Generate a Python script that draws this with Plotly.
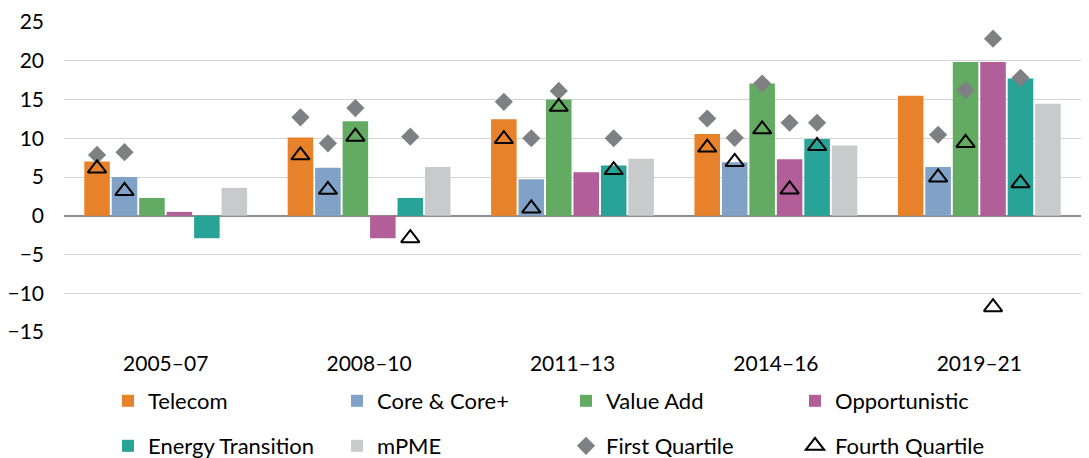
import numpy as np
import plotly.graph_objects as go

periods = ["2005–07", "2008–10", "2011–13", "2014–16", "2019–21"]

strategies = ["Telecom", "Core & Core+", "Value Add", "Opportunistic", "Energy Transition", "mPME"]
colors = ["#E8822A", "#80A2C6", "#63AA63", "#B25E98", "#27A398", "#C9CACC"]

telecom = [7.0, 10.1, 12.45, 10.55, 15.5]
core = [5.0, 6.2, 4.7, 6.9, 6.3]
value_add = [2.3, 12.2, 15.0, 17.05, 19.85]
opportunistic = [0.5, -2.9, 5.6, 7.3, 19.85]
energy = [-2.9, 2.3, 6.5, 9.9, 17.7]
mpme = [3.6, 6.3, 7.35, 9.05, 14.45]

# first / fourth quartile markers, one list per strategy (mPME has none)
q1_telecom = [7.85, 12.7, 14.7, 12.55, None]
q1_core = [8.2, 9.35, 10.0, 10.05, 10.45]
q1_value_add = [None, 13.9, 16.1, 17.05, 16.2]
q1_opportunistic = [None, None, None, 12.0, 22.85]
q1_energy = [None, 10.2, 10.0, 12.0, 17.8]

q4_telecom = [6.1, 7.8, 9.9, 8.8, None]
q4_core = [3.2, 3.35, 0.95, 6.95, 4.95]
q4_value_add = [None, 10.2, 14.05, 11.15, 9.4]
q4_opportunistic = [None, None, None, 3.4, -11.8]
q4_energy = [None, -2.9, 5.9, 9.0, 4.2]

bars = [telecom, core, value_add, opportunistic, energy, mpme]
q1 = [q1_telecom, q1_core, q1_value_add, q1_opportunistic, q1_energy]
q4 = [q4_telecom, q4_core, q4_value_add, q4_opportunistic, q4_energy]

FONT = "Lato"
W, H = 1081, 450  # page body has an 8px margin
bargap = 0.19
slot = (1 - bargap) / len(bars)
xpos = np.arange(len(periods))

fig = go.Figure()
for k, (name, vals, col) in enumerate(zip(strategies, bars, colors)):
    fig.add_trace(go.Bar(x=xpos, y=vals, name=name, marker_color=col,
                         marker_line_width=0, legend="legend" if k < 4 else "legend2"))

def offsets(k):
    return xpos + (k - (len(bars) - 1) / 2) * slot

for k, vals in enumerate(q1):
    fig.add_trace(go.Scatter(x=offsets(k), y=vals, mode="markers", name="First Quartile",
                             legendgroup="q1", showlegend=(k == 0), legend="legend2",
                             marker=dict(symbol="diamond", size=14, color="#7F8083")))
for k, vals in enumerate(q4):
    fig.add_trace(go.Scatter(x=offsets(k), y=vals, mode="markers", name="Fourth Quartile",
                             legendgroup="q4", showlegend=(k == 0), legend="legend2",
                             marker=dict(symbol="triangle-up-open", size=16, color="black",
                                         line=dict(width=2, color="black"))))

leg = dict(orientation="h", xref="container", yref="container", xanchor="left",
           yanchor="middle", entrywidth=184, entrywidthmode="pixels",
           font=dict(family=FONT, size=22, color="black"), bgcolor="rgba(0,0,0,0)",
           itemclick=False)

fig.update_layout(
    width=W, height=H,
    margin=dict(l=56, r=8, t=14, b=126, autoexpand=False),
    paper_bgcolor="white", plot_bgcolor="white",
    barmode="group", bargap=bargap, bargroupgap=0.07,
    font=dict(family=FONT, size=21, color="black"),
    legend=dict(leg, x=100 / W, y=1 - 393 / H),
    legend2=dict(leg, x=100 / W, y=1 - 438 / H),
    xaxis=dict(range=[-0.5, 4.5], tickvals=xpos, ticktext=periods, showgrid=False,
               zeroline=False, showline=False, ticks="", ticklabelstandoff=17,
               tickfont=dict(family=FONT, size=21, color="black")),
    yaxis=dict(range=[-15, 25], tickvals=list(range(-15, 26, 5)), showgrid=True,
               gridcolor="#D4D4D4", gridwidth=1, zeroline=True, zerolinecolor="#8C8C8C",
               zerolinewidth=2, showline=False, ticks="", ticklabelstandoff=19,
               tickfont=dict(family=FONT, size=21, color="black")),
)

fig.write_html("out.html")
